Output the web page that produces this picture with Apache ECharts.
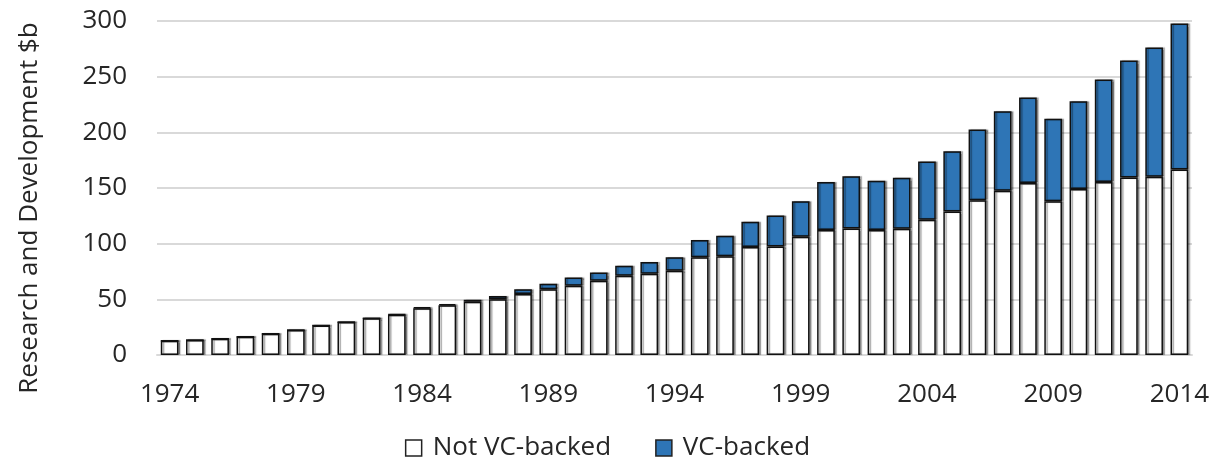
<!DOCTYPE html>
<html>
<head>
<meta charset="utf-8">
<script src="https://cdn.jsdelivr.net/npm/echarts@6/dist/echarts.min.js"></script>
<style>
  html, body { margin: 0; padding: 0; background: #fff; }
  #chart { width: 1215px; height: 460px; }
</style>
</head>
<body>
<div id="chart"></div>
<script>
const years = []
for (let y = 1974; y <= 2014; y++) years.push(String(y))

// R&D spend, $b
const notVcBacked = [
  12.8, 13.5, 14.6, 16.4, 19, 22.4, 26.6, 29.6, 32.9, 36.2,
  42, 44.6, 47.8, 50, 54.7, 59, 62.2, 66.7, 71.2, 73,
  75.7, 87.7, 88.6, 96.9, 97.5, 106.2, 112.2, 113.7, 112.2, 113.4,
  121.4, 129, 139.1, 147.5, 154.4, 138.2, 149, 155.5, 159.5, 160,
  166.6
]
const vcBacked = [
  0, 0, 0, 0, 0, 0, 0, 0, 0, 0.3,
  0.8, 1.2, 1.8, 3, 4.3, 5, 7.5, 7.5, 9, 10.5,
  12, 15.5, 18.4, 22.7, 27.9, 32, 43.3, 46.9, 44.2, 45.7,
  52.4, 54.1, 63.4, 71.5, 76.9, 73.9, 79, 91.9, 105, 116.1,
  131.1
]
const yTicks = { min: 0, max: 300, interval: 50 }

const textColor = '#262626'
const font = 'Open Sans'
const blue = '#2E75B6'

const chart = echarts.init(document.getElementById('chart'))

const barStyle = (fill) => ({
  color: fill,
  borderColor: '#111',
  borderWidth: 1.5,
  shadowColor: 'rgba(0,0,0,0.35)',
  shadowBlur: 1,
  shadowOffsetX: 2
})

chart.setOption({
  animation: false,
  textStyle: { fontFamily: font },
  grid: { left: 157, right: 23, top: 21, bottom: 105, containLabel: false, outerBoundsMode: 'none' },
  legend: {
    top: 430,
    left: 'center',
    itemWidth: 16,
    itemHeight: 16,
    itemGap: 44,
    textStyle: { fontSize: 26, color: textColor, fontFamily: font, padding: [0, 0, 0, 6] },
    data: [
      { name: 'Not VC-backed', icon: 'rect', itemStyle: { color: '#fff', borderColor: '#222', borderWidth: 1.5 } },
      { name: 'VC-backed', icon: 'rect', itemStyle: { color: blue, borderColor: '#222', borderWidth: 1.5 } }
    ]
  },
  xAxis: {
    type: 'category',
    data: years,
    axisLine: { lineStyle: { color: '#d9d9d9', width: 2 } },
    axisTick: { show: false },
    axisLabel: { interval: 4, color: textColor, fontSize: 26, margin: 27 }
  },
  yAxis: {
    type: 'value',
    ...yTicks,
    name: 'Research and Development $b',
    nameLocation: 'middle',
    nameGap: 114,
    nameTextStyle: { fontSize: 26, color: textColor, padding: [0, 40, 0, 0] },
    axisLabel: { color: textColor, fontSize: 26, margin: 30 },
    splitLine: { lineStyle: { color: '#d9d9d9', width: 2 } }
  },
  series: [
    {
      name: 'Not VC-backed',
      type: 'bar',
      stack: 'rd',
      barCategoryGap: '30%',
      itemStyle: barStyle('#fff'),
      data: notVcBacked
    },
    {
      name: 'VC-backed',
      type: 'bar',
      stack: 'rd',
      itemStyle: barStyle(blue),
      data: vcBacked
    }
  ]
})
</script>
</body>
</html>
